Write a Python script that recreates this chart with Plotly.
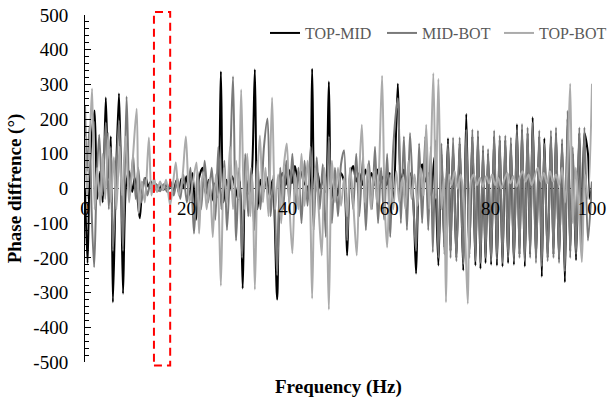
import plotly.graph_objects as go

# Phase difference between sensor pairs, (frequency Hz, phase deg) keypoints
TOP_MID = [
    (0.0, 0), (0.5, -215), (1.0, 80), (1.9, 225), (2.4, -30), (3.0, 50), (3.5, -40),
    (4.1, 262), (4.6, 30), (5.1, 150), (5.5, -328), (6.1, 30), (6.7, 274), (7.1, 40),
    (7.5, -303), (8.1, 10), (8.7, 50), (9.3, -10), (9.8, 30), (10.3, -20), (10.8, -86),
    (11.4, 10), (12.0, 30), (12.5, 5), (13.0, 20), (13.5, -5), (14.0, 12), (14.5, -6),
    (15.0, 8), (15.5, -4), (16.0, 10), (16.5, -2), (17.0, 14), (17.5, -8), (18.0, 22),
    (18.5, -12), (19.0, 28), (19.5, 0), (20.0, 35), (20.6, -25), (21.2, 45), (21.9, -90),
    (22.5, 30), (23.2, 60), (23.8, -15), (24.4, 25), (25.0, -35), (25.6, 15), (26.2, -25),
    (26.8, 337), (27.3, -40), (27.9, 25), (28.4, -10), (29.0, 35), (29.6, 5), (30.2, -30),
    (30.6, 20), (31.1, -288), (31.7, 30), (32.3, -15), (32.9, 40), (33.5, 343), (34.0, -60),
    (34.6, 25), (35.2, -10), (35.8, 35), (36.4, -20), (37.0, 25), (37.9, -320), (38.5, 20),
    (39.0, 45), (39.6, 10), (40.2, 55), (40.8, 15), (41.4, 65), (42.0, 25), (42.6, 50),
    (43.2, 15), (43.8, 5), (44.3, -30), (44.8, 345), (45.3, -20), (45.9, 45), (46.4, 0),
    (47.0, 30), (47.5, -10), (48.1, 308), (48.6, -30), (49.2, 25), (49.8, -20), (50.4, 45),
    (51.1, 20), (51.7, -193), (52.3, 35), (52.9, 65), (53.5, 20), (54.1, 45), (54.7, 10),
    (55.3, 55), (55.9, 20), (56.5, 45), (57.1, 10), (57.7, 55), (58.3, 20), (58.9, 35),
    (59.5, 10), (60.1, 45), (60.8, -30), (61.7, 302), (62.3, 20), (62.9, 55), (63.5, 10),
    (64.1, 45), (64.7, -20), (65.3, -245), (65.9, 30), (66.5, 70), (67.1, 20), (67.7, 45),
    (68.3, -20), (68.9, 90), (69.7, -222), (70.3, 100), (70.9, -170), (71.6, 145),
    (72.1, -180), (72.6, 120), (73.25, -200), (73.9, 130), (74.6, -236), (75.2, 215),
    (75.8, -190), (76.4, 150), (77.0, -222), (77.5, 150), (78.0, -231), (78.5, 110),
    (79.0, -215), (79.5, 100), (80.1, -220), (80.7, 150), (81.25, -222), (81.8, 140),
    (82.35, -225), (82.9, 140), (83.45, -215), (84.0, 130), (84.6, -220), (85.2, 185),
    (85.7, -190), (86.2, 170), (86.75, -225), (87.3, 160), (87.8, -190), (88.3, 205),
    (88.95, -200), (89.6, 150), (90.1, -254), (90.6, 145), (91.25, -200), (91.9, 150),
    (92.4, -190), (92.9, 160), (93.5, -205), (94.1, 130), (94.65, -270), (95.2, 200),
    (95.7, -180), (96.2, 100), (96.85, -207), (97.5, 160), (98.0, -170), (98.5, 160),
    (99.2, 101), (99.6, -30), (100.0, 0),
]

MID_BOT = [
    (0.0, 240), (0.4, 50), (0.9, 180), (1.3, -60), (1.8, -227), (2.3, 20), (2.8, 155),
    (3.4, -20), (4.1, 190), (4.7, -60), (5.1, 120), (5.5, -180), (6.1, 20), (6.7, 196),
    (7.1, 30), (7.5, -180), (8.2, 265), (8.8, -20), (9.5, 95), (10.0, -30), (10.5, 60),
    (11.1, -40), (11.7, 30), (12.3, -20), (12.9, 15), (13.5, -10), (14.2, 10), (14.8, -8),
    (15.5, 12), (16.2, -10), (16.9, 20), (17.5, -20), (18.2, 30), (18.8, -30), (19.4, 40),
    (20.1, -40), (20.8, 60), (21.5, -130), (22.2, 50), (22.9, -60), (23.6, 80), (24.3, -40),
    (25.0, 60), (25.7, -90), (26.3, 120), (26.9, -60), (27.5, 80), (28.0, -120), (28.6, 60),
    (29.2, 323), (29.8, -150), (30.4, 60), (31.0, -200), (31.6, 100), (32.2, -80),
    (32.8, 60), (33.4, -120), (34.0, 80), (34.6, -60), (35.3, 120), (36.0, 202),
    (36.6, -80), (37.2, 40), (37.9, -250), (38.5, 60), (39.1, -60), (39.7, 80), (40.3, -40),
    (40.9, 100), (41.5, -60), (42.1, 60), (42.7, -100), (43.3, 80), (43.9, -50), (44.5, 120),
    (45.1, -120), (45.7, 90), (46.3, -60), (46.9, 70), (47.5, -140), (48.1, 150),
    (48.7, -100), (49.3, 60), (49.9, -80), (50.5, 70), (51.1, 110), (51.7, -150), (52.3, 60),
    (52.9, -60), (53.5, 100), (54.1, -80), (54.8, 90), (55.4, -120), (56.0, 80), (56.6, -60),
    (57.2, 120), (57.8, -100), (58.4, 60), (59.0, -90), (59.6, 100), (60.2, -140),
    (60.8, 120), (61.7, 260), (62.3, -100), (62.9, 150), (63.5, -120), (64.1, 160),
    (64.8, -60), (65.3, -180), (65.9, 130), (66.5, -100), (67.1, 150), (67.7, -120),
    (68.2, 120), (68.6, -184), (69.2, 140), (69.7, -200), (70.3, 130), (70.9, -190),
    (71.6, 130), (72.1, -200), (72.6, 147), (73.25, -210), (73.9, 147), (74.6, -220),
    (75.2, 170), (75.8, -200), (76.4, 170), (77.0, -210), (77.5, 167), (78.0, -215),
    (78.5, 124), (79.0, -200), (79.5, 114), (80.1, -210), (80.7, 167), (81.25, -205),
    (81.8, 153), (82.35, -215), (82.9, 153), (83.45, -200), (84.0, 147), (84.6, -210),
    (85.2, 170), (85.7, -200), (86.2, 186), (86.75, -210), (87.3, 176), (87.8, -200),
    (88.3, 190), (88.95, -215), (89.6, 167), (90.1, -225), (90.6, 130), (91.25, -210),
    (91.9, 167), (92.4, -200), (92.9, 176), (93.5, -215), (94.1, 143), (94.65, -240),
    (95.2, 224), (95.7, -200), (96.2, 120), (96.85, -190), (97.5, 176), (98.0, -180),
    (98.5, 176), (99.2, -150), (100.0, 20),
]

TOP_BOT = [
    (0.0, 150), (0.4, -30), (0.9, 120), (1.4, 288), (1.9, -60), (2.4, 60), (3.0, -49),
    (3.5, 100), (4.0, -30), (4.6, 160), (5.1, -40), (5.7, 90), (6.2, -60), (6.8, 120),
    (7.3, -20), (8.0, 150), (8.7, -40), (9.4, 80), (10.2, 230), (10.6, -72), (11.2, 20),
    (11.8, -40), (12.6, 147), (13.1, -20), (13.6, 30), (14.2, -10), (14.8, 20), (15.4, -5),
    (16.0, 25), (16.8, -49), (17.9, 75), (18.5, -20), (19.2, 30), (19.9, 150), (20.6, -40),
    (21.3, 20), (22.0, 75), (22.5, -130), (23.0, 20), (23.4, 46), (24.0, -60), (24.6, 30),
    (25.2, -140), (25.8, 40), (26.3, -30), (26.8, -280), (27.4, 60), (28.0, -40),
    (28.6, 120), (29.2, -60), (29.8, 80), (30.3, -30), (30.8, 285), (31.4, -60), (32.0, 100),
    (32.6, -80), (33.0, 40), (33.5, -291), (34.0, 30), (34.5, 153), (35.1, -40), (35.6, 60),
    (36.2, -80), (36.9, 262), (37.5, -60), (38.1, 40), (38.7, -100), (39.2, 60), (39.8, 130),
    (40.3, -40), (40.9, -187), (41.5, 40), (42.1, -60), (42.7, 100), (43.3, -50), (43.9, 80),
    (44.4, -40), (44.8, -317), (45.4, 60), (46.0, -40), (46.7, -193), (47.2, 60),
    (47.6, -20), (48.1, -349), (48.7, 80), (49.3, -40), (49.9, 60), (50.5, -50), (51.1, 30),
    (51.7, -80), (52.3, 60), (52.9, -40), (53.6, -193), (54.1, 40), (54.6, 184), (55.2, -40),
    (55.8, 70), (56.4, -60), (57.0, 50), (57.6, -40), (58.0, 60), (58.6, 325), (59.1, -40),
    (59.6, -170), (60.2, 40), (60.8, -60), (61.4, 50), (62.0, -40), (62.6, 30), (63.2, -60),
    (63.8, 80), (64.4, -30), (65.0, 40), (65.6, -50), (66.2, 60), (66.8, -20), (67.3, 184),
    (67.9, -60), (68.7, 332), (69.2, -30), (69.7, 316), (70.3, -60), (70.8, 30),
    (71.2, -328), (71.8, 40), (72.3, 10), (72.9, 50), (73.5, 0), (74.1, 40), (74.7, -30),
    (75.5, -332), (76.1, 20), (76.7, 40), (77.3, 10), (77.9, 30), (78.5, 5), (79.1, 35),
    (79.7, 15), (80.3, 40), (80.9, 10), (81.5, 30), (82.1, 0), (82.7, 25), (83.3, 45),
    (83.9, 15), (84.5, 35), (85.1, 5), (85.7, 30), (86.3, 50), (86.9, 20), (87.5, 40),
    (88.1, 10), (88.7, 35), (89.3, 60), (89.9, 20), (90.5, 45), (91.1, 15), (91.7, 50),
    (92.3, 20), (92.9, 40), (93.5, 10), (94.1, 60), (94.7, -40), (95.2, 80), (95.7, 302),
    (96.2, -100), (96.8, 60), (97.4, -60), (98.0, -212), (98.6, 40), (99.2, -30),
    (100.0, 302),
]

SERIES = [
    ("TOP-MID", TOP_MID, "#000000"),
    ("MID-BOT", MID_BOT, "#7a7a7a"),
    ("TOP-BOT", TOP_BOT, "#ababab"),
]

Y_TICKS = list(range(-500, 501, 100))
X_TICKS = [0, 20, 40, 60, 80, 100]
HIGHLIGHT_BAND = (13.6, 16.8)  # Hz, quiet band marked by the dashed box

SERIF = "Liberation Serif, Times New Roman, serif"

fig = go.Figure()
for name, pts, color in SERIES:
    fig.add_trace(go.Scatter(
        x=[p[0] for p in pts], y=[p[1] for p in pts], name=name, mode="lines",
        line=dict(color=color, width=2, shape="spline", smoothing=0.8),
    ))

fig.update_layout(
    width=608, height=405,
    margin=dict(l=85, r=16, t=15, b=43, autoexpand=False),
    paper_bgcolor="white", plot_bgcolor="white",
    font=dict(family=SERIF, size=19, color="#000000"),
    showlegend=True,
    legend=dict(orientation="h", x=0.355, xanchor="left", y=0.948, yanchor="middle",
                font=dict(size=16, color="#595959"), itemwidth=30,
                entrywidth=72, entrywidthmode="pixels",
                bgcolor="rgba(0,0,0,0)", tracegroupgap=0),
    xaxis=dict(range=[0, 100], anchor="free", position=0.5, showgrid=False,
               zeroline=False, showline=False, ticks="", automargin=False,
               tickvals=X_TICKS, ticktext=[str(v) for v in X_TICKS],
               ticklabelstandoff=6, tickfont=dict(size=19, color="#000000")),
    yaxis=dict(range=[-500, 500], showgrid=False, zeroline=False, automargin=False,
               showline=True, linecolor="#000000", linewidth=1,
               ticks="inside", ticklen=6, tickcolor="#000000",
               minor=dict(dtick=20, ticks="inside", ticklen=4, tickcolor="#000000"),
               tickvals=Y_TICKS, ticktext=[str(v) for v in Y_TICKS],
               ticklabelstandoff=12, tickfont=dict(size=19, color="#000000"),
               title=dict(text="<b>Phase diffrence (°)</b>", standoff=6,
                          font=dict(size=19))),
    annotations=[dict(text="<b>Frequency (Hz)</b>", xref="paper", yref="paper",
                      x=0.5, y=-0.072, xanchor="center", yanchor="middle",
                      showarrow=False, font=dict(size=19))],
)

# dotted horizontal axis through zero
fig.add_shape(type="line", xref="paper", yref="y", x0=0, x1=1, y0=0, y1=0,
              line=dict(color="#333333", width=1, dash="2px,2px"), layer="below")

# red dashed box around the quiet band
fig.add_shape(type="rect", xref="x", yref="paper",
              x0=HIGHLIGHT_BAND[0], x1=HIGHLIGHT_BAND[1], y0=-0.01, y1=1.009,
              line=dict(color="#ff0000", width=2, dash="8px,5px"), layer="above")

fig.write_html("out.html")
